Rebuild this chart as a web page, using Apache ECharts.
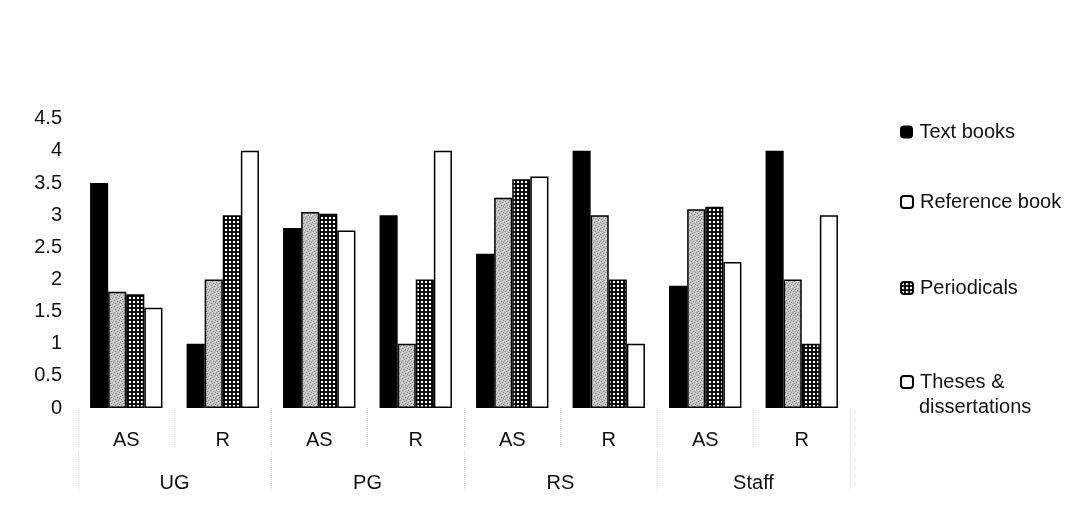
<!DOCTYPE html>
<html>
<head>
<meta charset="utf-8">
<script src="https://cdn.jsdelivr.net/npm/echarts@6/dist/echarts.min.js"></script>
<style>
html,body{margin:0;padding:0;background:#fff;}
#chart{width:1073px;height:516px;}
</style>
</head>
<body>
<div id="chart"></div>
<script>
// ---- data ----
const categories = ['AS', 'R', 'AS', 'R', 'AS', 'R', 'AS', 'R'];
const groups = ['UG', 'PG', 'RS', 'Staff'];
const seriesNames = ['Text books', 'Reference book', 'Periodicals', 'Theses & dissertations'];
const textBooks = [3.5, 1, 2.8, 3, 2.4, 4, 1.9, 4];
const referenceBook = [1.81, 2, 3.05, 1, 3.27, 3, 3.09, 2];
const periodicals = [1.77, 3, 3.02, 2, 3.56, 2, 3.13, 1];
const theses = [1.56, 4, 2.76, 4, 3.6, 1, 2.27, 3];
const yTicks = { min: 0, max: 4.5, interval: 0.5 };

// ---- fill patterns ----
function gridPattern() {
  const c = document.createElement('canvas');
  c.width = 4; c.height = 4;
  const g = c.getContext('2d');
  g.fillStyle = '#111'; g.fillRect(0, 0, 4, 4);
  g.fillStyle = '#fff'; g.fillRect(1, 1, 2, 2);
  return c;
}
function stipplePattern() {
  const c = document.createElement('canvas');
  c.width = 6; c.height = 6;
  const g = c.getContext('2d');
  g.fillStyle = '#c2c2c2'; g.fillRect(0, 0, 6, 6);
  g.fillStyle = '#888';
  [[0,0],[3,1],[1,3],[4,4],[5,2],[2,5]].forEach(p => g.fillRect(p[0], p[1], 1, 1));
  g.fillStyle = '#e2e2e2';
  [[2,0],[5,5],[0,4],[4,2]].forEach(p => g.fillRect(p[0], p[1], 1, 1));
  return c;
}
const gridFill = { image: gridPattern(), repeat: 'repeat' };
const stippleFill = { image: stipplePattern(), repeat: 'repeat' };

const font = 'Liberation Sans, Arial, sans-serif';
const fs = 20;

const chart = echarts.init(document.getElementById('chart'), null, { renderer: 'canvas' });

const border = { borderColor: '#000', borderWidth: 1.5 };
const fills = ['#000', stippleFill, gridFill, '#fff'];
const values = [textBooks, referenceBook, periodicals, theses];

const series = seriesNames.map((n, i) => ({
  name: n,
  type: 'bar',
  data: values[i],
  barGap: '0%',
  barCategoryGap: '25%',
  itemStyle: Object.assign({ color: fills[i] }, border)
}));

const legendTops = [122, 192, 278, 372];
const legendIcons = [
  { color: '#000', borderColor: '#000', borderWidth: 1 },
  { color: '#fff', borderColor: '#000', borderWidth: 2 },
  { color: gridFill, borderColor: '#000', borderWidth: 2 },
  { color: '#fff', borderColor: '#000', borderWidth: 2 }
];
const legends = seriesNames.map((n, i) => ({
  data: [{ name: n, itemStyle: legendIcons[i] }],
  left: 900,
  top: legendTops[i],
  padding: 0,
  icon: 'roundRect',
  itemWidth: 12,
  itemHeight: 12,
  selectedMode: false,
  formatter: nm => (nm === 'Theses & dissertations' ? 'Theses &' : nm),
  textStyle: { fontFamily: font, fontSize: fs, color: '#111', padding: [0, 0, 0, 2] }
}));

const tickStyle = { color: '#dcdcdc', type: 'dotted', width: 1 };

chart.setOption({
  backgroundColor: '#fff',
  animation: false,
  grid: { left: 78, right: 223, top: 118.7, bottom: 108 },
  legend: legends,
  graphic: [{
    type: 'text', left: 919, top: 397,
    style: { text: 'dissertations', font: fs + 'px ' + font, fill: '#111' }
  }],
  xAxis: [
    {
      type: 'category',
      data: categories,
      axisLine: { show: false },
      axisTick: { show: true, length: 40, lineStyle: tickStyle },
      axisLabel: { fontFamily: font, fontSize: fs, color: '#111', margin: 22, interval: 0 }
    },
    {
      type: 'category',
      data: groups,
      position: 'bottom',
      offset: 43,
      axisLine: { show: false },
      axisTick: { show: true, length: 40, lineStyle: tickStyle },
      axisLabel: { fontFamily: font, fontSize: fs, color: '#111', margin: 22 }
    }
  ],
  yAxis: {
    type: 'value',
    min: yTicks.min,
    max: yTicks.max,
    interval: yTicks.interval,
    axisLine: { show: false },
    axisTick: { show: false },
    splitLine: { show: false },
    axisLabel: { fontFamily: font, fontSize: fs, color: '#111', margin: 16 }
  },
  series: series
});
</script>
</body>
</html>
